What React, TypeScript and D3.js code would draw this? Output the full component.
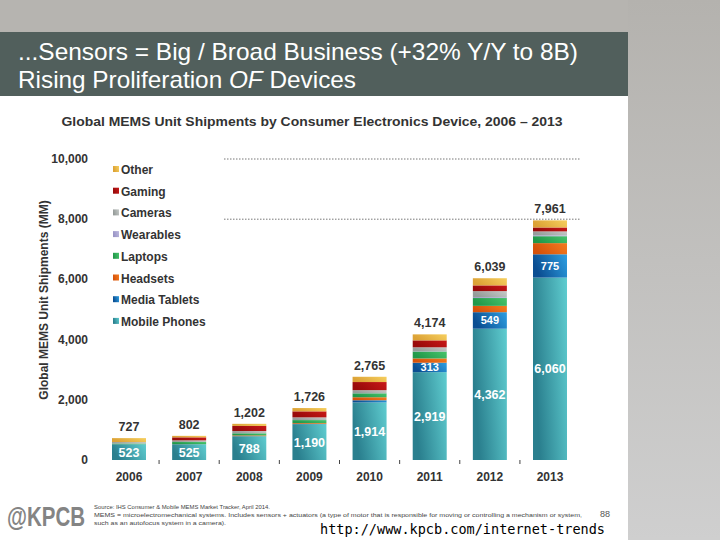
import React, { useEffect, useRef } from 'react';
import * as d3 from 'd3';

const years = ['2006', '2007', '2008', '2009', '2010', '2011', '2012', '2013'];
const totals = [727, 802, 1202, 1726, 2765, 4174, 6039, 7961];
const mobilePhones = [523, 525, 788, 1190, 1914, 2919, 4362, 6060];
const mediaTablets = [0, 0, 5, 10, 71, 313, 549, 775];
const headsets = [0, 2, 24, 26, 100, 142, 210, 370];
const laptops = [24, 70, 70, 100, 130, 230, 260, 230];
const wearables = [0, 0, 0, 0, 5, 10, 30, 30];
const cameras = [50, 55, 75, 90, 100, 130, 200, 130];
const gaming = [0, 100, 170, 200, 270, 230, 190, 130];
const other = [130, 50, 70, 110, 175, 200, 238, 236];
const yTicks = [0, 2000, 4000, 6000, 8000, 10000];
const gridTicks = [8000, 10000];

const series = [
  { key: 'Mobile Phones', values: mobilePhones, c0: '#2a7f8e', c1: '#5fcdd0' },
  { key: 'Media Tablets', values: mediaTablets, c0: '#0b4e92', c1: '#2d9fe2' },
  { key: 'Headsets', values: headsets, c0: '#d6520a', c1: '#f47c20' },
  { key: 'Laptops', values: laptops, c0: '#21984a', c1: '#48c46c' },
  { key: 'Wearables', values: wearables, c0: '#9a95c6', c1: '#bcb8de' },
  { key: 'Cameras', values: cameras, c0: '#969c9a', c1: '#c6cac8' },
  { key: 'Gaming', values: gaming, c0: '#980a0a', c1: '#c81818' },
  { key: 'Other', values: other, c0: '#dca236', c1: '#f6cf5e' },
];

const fmt = d3.format(',');

const App = () => {
  const svgRef = useRef(null);

  useEffect(() => {
    document.body.style.margin = '0';
    const svg = d3.select(svgRef.current);
    svg.selectAll('*').remove();
    const W = 720, H = 540;
    const font = 'Liberation Sans, Arial, sans-serif';

    const defs = svg.append('defs');
    const bg = defs.append('linearGradient').attr('id', 'side').attr('x1', 0).attr('y1', 0).attr('x2', 0).attr('y2', 1);
    bg.append('stop').attr('offset', 0).attr('stop-color', '#b4b2ae');
    bg.append('stop').attr('offset', 1).attr('stop-color', '#cfcfcf');

    series.forEach((s, i) => {
      const g = defs.append('linearGradient').attr('id', 'g' + i).attr('x1', 0).attr('y1', 0.3).attr('x2', 1).attr('y2', 0);
      g.append('stop').attr('offset', 0).attr('stop-color', s.c0);
      g.append('stop').attr('offset', 1).attr('stop-color', s.c1);
    });

    // slide background
    svg.append('rect').attr('width', W).attr('height', H).attr('fill', '#ffffff');
    svg.append('rect').attr('x', 0).attr('y', 0).attr('width', W).attr('height', 32).attr('fill', '#b6b4b0');
    svg.append('rect').attr('x', 628).attr('y', 0).attr('width', 92).attr('height', H).attr('fill', 'url(#side)');
    svg.append('rect').attr('x', 0).attr('y', 32).attr('width', 628).attr('height', 64).attr('fill', '#515f5c');

    const narrow = 'Liberation Sans Narrow, Arial Narrow, Liberation Sans, Arial, sans-serif';
    svg.append('text').attr('x', 18).attr('y', 60).attr('fill', '#fff')
      .attr('font-family', narrow).attr('font-size', 24)
      .attr('textLength', 560).attr('lengthAdjust', 'spacingAndGlyphs')
      .text('...Sensors = Big / Broad Business (+32% Y/Y to 8B)');
    const t2 = svg.append('text').attr('x', 18).attr('y', 88).attr('fill', '#fff')
      .attr('font-family', narrow).attr('font-size', 24)
      .attr('textLength', 338).attr('lengthAdjust', 'spacingAndGlyphs');
    t2.append('tspan').text('Rising Proliferation ');
    t2.append('tspan').attr('font-style', 'italic').text('OF');
    t2.append('tspan').text(' Devices');

    svg.append('text').attr('x', 312).attr('y', 126).attr('text-anchor', 'middle')
      .attr('font-family', font).attr('font-weight', 'bold').attr('font-size', 13).attr('fill', '#333')
      .attr('textLength', 501).attr('lengthAdjust', 'spacingAndGlyphs')
      .text('Global MEMS Unit Shipments by Consumer Electronics Device, 2006 – 2013');

    const x = d3.scalePoint().domain(years).range([129, 550]);
    const y = d3.scaleLinear().domain([0, 10000]).range([460, 159]);
    const bw = 34;
    const step = x.step();

    // gridlines
    svg.append('g').selectAll('line').data(gridTicks).join('line')
      .attr('x1', 224).attr('x2', 580)
      .attr('y1', d => y(d)).attr('y2', d => y(d))
      .attr('stroke', '#777').attr('stroke-width', 1).attr('stroke-dasharray', '1.5,1.5');

    // y axis labels
    svg.append('g').selectAll('text').data(yTicks).join('text')
      .attr('x', 88).attr('y', d => y(d) + 4).attr('text-anchor', 'end')
      .attr('font-family', font).attr('font-weight', 'bold').attr('font-size', 12).attr('fill', '#333')
      .text(d => fmt(d));
    svg.append('text').attr('transform', 'translate(48,300) rotate(-90)').attr('text-anchor', 'middle')
      .attr('font-family', font).attr('font-weight', 'bold').attr('font-size', 12).attr('fill', '#333')
      .text('Global MEMS Unit Shipments (MM)');

    // stacked bars
    const table = years.map((yr, i) => {
      const row = { year: yr };
      series.forEach(s => { row[s.key] = s.values[i]; });
      return row;
    });
    const stacked = d3.stack().keys(series.map(s => s.key))(table);
    stacked.forEach((layer, i) => {
      svg.append('g').selectAll('rect').data(layer).join('rect')
        .attr('x', d => x(d.data.year) - bw / 2)
        .attr('width', bw)
        .attr('y', d => y(d[1]))
        .attr('height', d => Math.max(0, y(d[0]) - y(d[1])))
        .attr('fill', `url(#g${i})`);
    });

    // x ticks between bars
    svg.append('g').selectAll('line').data(years.slice(1)).join('line')
      .attr('x1', d => x(d) - step / 2).attr('x2', d => x(d) - step / 2)
      .attr('y1', 460).attr('y2', 464).attr('stroke', '#444').attr('stroke-width', 1);

    svg.append('g').selectAll('text').data(years).join('text')
      .attr('x', d => x(d)).attr('y', 481).attr('text-anchor', 'middle')
      .attr('font-family', font).attr('font-weight', 'bold').attr('font-size', 12).attr('fill', '#333')
      .text(d => d);

    // totals
    svg.append('g').selectAll('text').data(totals).join('text')
      .attr('x', (d, i) => x(years[i])).attr('y', d => y(d) - 7).attr('text-anchor', 'middle')
      .attr('font-family', font).attr('font-weight', 'bold').attr('font-size', 12.5).attr('fill', '#333')
      .text(d => fmt(d));

    // phone labels
    svg.append('g').selectAll('text').data(mobilePhones).join('text')
      .attr('x', (d, i) => x(years[i])).attr('y', d => (y(0) + y(d)) / 2 + 4.5).attr('text-anchor', 'middle')
      .attr('font-family', font).attr('font-weight', 'bold').attr('font-size', 12.5).attr('fill', '#fff')
      .text(d => fmt(d));

    // tablet labels
    const tabIdx = [5, 6, 7];
    svg.append('g').selectAll('text').data(tabIdx).join('text')
      .attr('x', i => x(years[i]))
      .attr('y', i => (y(mobilePhones[i]) + y(mobilePhones[i] + mediaTablets[i])) / 2 + 4)
      .attr('text-anchor', 'middle')
      .attr('font-family', font).attr('font-weight', 'bold').attr('font-size', 11).attr('fill', '#fff')
      .text(i => fmt(mediaTablets[i]));

    // legend
    const legend = svg.append('g');
    const lgItems = series.slice().reverse();
    lgItems.forEach((s, j) => {
      const ly = 170 + j * 21.7;
      const idx = series.indexOf(s);
      legend.append('rect').attr('x', 113).attr('y', ly - 4).attr('width', 6).attr('height', 6).attr('fill', `url(#g${idx})`);
      legend.append('text').attr('x', 121).attr('y', ly + 4)
        .attr('font-family', font).attr('font-weight', 'bold').attr('font-size', 12).attr('fill', '#333')
        .text(s.key);
    });

    // footer
    svg.append('text').attr('transform', 'translate(7,526) scale(1,1.4)')
      .attr('font-family', font).attr('font-weight', 'bold').attr('font-size', 20).attr('fill', '#848484')
      .attr('textLength', 78).attr('lengthAdjust', 'spacingAndGlyphs').text('@KPCB');
    const src = [
      'Source: IHS Consumer & Mobile MEMS Market Tracker, April 2014.',
      'MEMS = microelectromechanical systems. Includes sensors + actuators (a type of motor that is responsible for moving or controlling a mechanism or system,',
      'such as an autofocus system in a camera).',
    ];
    const srcLen = [176, 488, 132];
    src.forEach((line, i) => {
      svg.append('text').attr('x', 94).attr('y', 509 + i * 8)
        .attr('font-family', font).attr('font-size', 6).attr('fill', '#444')
        .attr('textLength', srcLen[i]).attr('lengthAdjust', 'spacingAndGlyphs').text(line);
    });
    svg.append('text').attr('x', 600).attr('y', 517)
      .attr('font-family', font).attr('font-size', 9).attr('fill', '#555').text('88');
    svg.append('text').attr('x', 320).attr('y', 534)
      .attr('font-family', 'DejaVu Sans Mono, monospace').attr('font-size', 13.5).attr('fill', '#000')
      .attr('textLength', 285).attr('lengthAdjust', 'spacingAndGlyphs')
      .text('http://www.kpcb.com/internet-trends');
  }, []);

  return <svg ref={svgRef} width={720} height={540} style={{ display: 'block', position: 'absolute', left: 0, top: 0 }}></svg>;
};

export default App;
